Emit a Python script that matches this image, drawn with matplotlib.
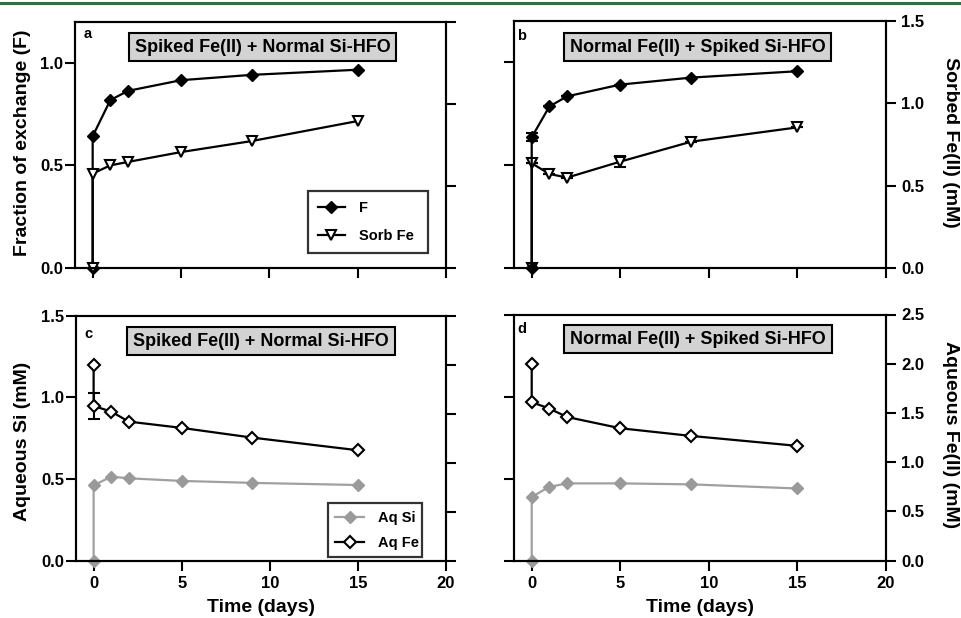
import matplotlib
matplotlib.use('Agg')
import matplotlib.pyplot as plt
from matplotlib.lines import Line2D

plt.rcParams['font.family'] = ['Liberation Sans', 'DejaVu Sans']
plt.rcParams['font.weight'] = 'bold'
plt.rcParams['axes.labelweight'] = 'bold'

# ---------------- data ----------------
time = [0, 0, 1, 2, 5, 9, 15]
x_ticks = [0, 5, 10, 15, 20]

# Panel a: Spiked Fe(II) + Normal Si-HFO
a_F = [0.0, 0.642, 0.818, 0.863, 0.915, 0.941, 0.966]
a_sorb = [0.0, 0.575, 0.625, 0.646, 0.706, 0.773, 0.895]

# Panel b: Normal Fe(II) + Spiked Si-HFO
b_F = [0.0, 0.635, 0.785, 0.834, 0.891, 0.925, 0.956]
b_F_err = [0, 0.02, 0, 0, 0, 0, 0]
b_sorb = [0.0, 0.636, 0.571, 0.549, 0.646, 0.767, 0.854]
b_sorb_err = [0, 0, 0, 0, 0.032, 0, 0]

# Panel c: Spiked Fe(II) + Normal Si-HFO
c_si = [0.0, 0.461, 0.514, 0.504, 0.488, 0.476, 0.463]
c_fe = [2.0, 1.578, 1.520, 1.418, 1.354, 1.255, 1.126]
c_fe_err = [0, 0.13, 0, 0, 0, 0, 0]

# Panel d: Normal Fe(II) + Spiked Si-HFO
d_si = [0.0, 0.389, 0.450, 0.471, 0.471, 0.465, 0.440]
d_fe = [2.0, 1.610, 1.544, 1.459, 1.345, 1.267, 1.166]

title_1 = "Spiked Fe(II) + Normal Si-HFO"
title_2 = "Normal Fe(II) + Spiked Si-HFO"

GRAY = '#9a9a9a'
GRAY_LINE = '#a0a0a0'
W, H = 961, 618

fig = plt.figure(figsize=(W / 100, H / 100), dpi=100)
fig.add_artist(Line2D([0, 1], [1 - 2.5 / H] * 2, color='#2f6f44', lw=2.2,
                      transform=fig.transFigure))


def rect(l, t, r, b):
    return [l / W, 1 - b / H, (r - l) / W, (b - t) / H]


def setup(ax, tw, left_lim, left_ticks, right_lim, right_ticks,
          left_labels, right_labels, bottom_labels):
    ax.set_xlim(-1, 20)
    ax.set_xticks(x_ticks)
    ax.set_ylim(*left_lim)
    ax.set_yticks(left_ticks)
    tw.set_ylim(*right_lim)
    tw.set_yticks(right_ticks)
    for a in (ax, tw):
        for s in a.spines.values():
            s.set_linewidth(1.5)
        a.tick_params(direction='out', length=7, width=1.5, labelsize=12)
    ax.tick_params(axis='y', labelleft=left_labels, pad=1.5)
    ax.tick_params(axis='x', labelbottom=bottom_labels, pad=4)
    tw.tick_params(axis='y', labelright=right_labels, pad=4)
    for lab in ax.get_xticklabels() + ax.get_yticklabels() + tw.get_yticklabels():
        lab.set_fontweight('bold')


def title_box(x, y, text):
    fig.text(x / W, 1 - y / H, text, ha='center', va='center', fontsize=13,
             fontweight='bold',
             bbox=dict(boxstyle='square,pad=0.32', fc='#d3d3d3', ec='black', lw=1.5))


def legend(ax, handles, labels, x0, y0, w, hlen, tpad, lspace, bpad):
    leg = ax.legend(handles, labels, loc='lower left', bbox_to_anchor=(x0, y0, w, 0.4),
                    mode='expand', fontsize=10.5, frameon=True, fancybox=False,
                    edgecolor='black', handlelength=hlen, handletextpad=tpad,
                    labelspacing=lspace, borderpad=bpad, borderaxespad=0.0)
    leg.get_frame().set_linewidth(1.6)
    return leg


lw = 1.6
mew = 1.5

# ---------------- panel a ----------------
axa = fig.add_axes(rect(75, 21.7, 446, 268))
twa = axa.twinx()
setup(axa, twa, (0, 1.2), [0, 0.5, 1.0], (0, 1.5), [0, 0.5, 1.0, 1.5], True, False, False)
lF, = axa.plot(time, a_F, color='black', lw=lw, marker='D', ms=6.2, mfc='black',
               mec='black', clip_on=False, label='F')
lS, = twa.plot(time, a_sorb, color='black', lw=lw, marker='v', ms=7.5, mfc='white',
               mec='black', mew=mew, clip_on=False, label='Sorb Fe')
legend(twa, [lF, lS], ['F', 'Sorb Fe'], (308 - 75) / 371, (268 - 253) / 246.3,
       120 / 371, 1.85, 1.0, 0.95, 0.68)
fig.text(84 / W, 1 - 38.5 / H, 'a', fontsize=10.5, fontweight='bold', va='baseline')
title_box(262.5, 47, title_1)

# ---------------- panel b ----------------
axb = fig.add_axes(rect(514, 21, 886, 268))
twb = axb.twinx()
setup(axb, twb, (0, 1.2), [0, 0.5, 1.0], (0, 1.5), [0, 0.5, 1.0, 1.5], False, True, False)
twb.errorbar(time, b_sorb, yerr=b_sorb_err, color='black', lw=lw, marker='v', ms=7.5,
             mfc='white', mec='black', mew=mew, capsize=4.5, elinewidth=1.5,
             capthick=1.5, clip_on=False)
axb.errorbar(time, b_F, yerr=b_F_err, color='black', lw=lw, marker='D', ms=6.2,
             mfc='black', mec='black', capsize=4.5, elinewidth=1.5, capthick=1.5,
             clip_on=False)
axb.set_zorder(twb.get_zorder() + 1)
axb.patch.set_visible(False)
fig.text(517 / W, 1 - 40 / H, 'b', fontsize=10.5, fontweight='bold', va='baseline')
title_box(697.5, 47, title_2)

# ---------------- panel c ----------------
axc = fig.add_axes(rect(76, 315.5, 446, 560.7))
twc = axc.twinx()
setup(axc, twc, (0, 1.5), [0, 0.5, 1.0, 1.5], (0, 2.5), [0, 0.5, 1.0, 1.5, 2.0, 2.5],
      True, False, True)
lSi, = axc.plot(time, c_si, color=GRAY_LINE, lw=lw, marker='D', ms=6.5, mfc=GRAY,
                mec=GRAY, clip_on=False)
twc.errorbar(time, c_fe, yerr=c_fe_err, color='black', lw=lw, marker='D', ms=6.5,
             mfc='white', mec='black', mew=mew, capsize=4.5, elinewidth=1.5,
             capthick=1.5, clip_on=False)
hFe = Line2D([], [], color='black', lw=lw, marker='D', ms=6.5, mfc='white', mec='black',
             mew=mew)
legend(twc, [lSi, hFe], ['Aq Si', 'Aq Fe'], (328 - 76) / 370, (560.7 - 557) / 245.2,
       94 / 370, 2.0, 0.9, 0.75, 0.5)
axc.set_xlabel('Time (days)', fontsize=14, fontweight='bold', labelpad=6)
fig.text(84 / W, 1 - 338 / H, 'c', fontsize=10.5, fontweight='bold', va='baseline')
title_box(261, 341, title_1)

# ---------------- panel d ----------------
axd = fig.add_axes(rect(514, 314.5, 886, 560.7))
twd = axd.twinx()
setup(axd, twd, (0, 1.5), [0, 0.5, 1.0, 1.5], (0, 2.5), [0, 0.5, 1.0, 1.5, 2.0, 2.5],
      False, True, True)
axd.plot(time, d_si, color=GRAY_LINE, lw=lw, marker='D', ms=6.5, mfc=GRAY, mec=GRAY,
         clip_on=False)
twd.plot(time, d_fe, color='black', lw=lw, marker='D', ms=6.5, mfc='white', mec='black',
         mew=mew, clip_on=False)
axd.set_xlabel('Time (days)', fontsize=14, fontweight='bold', labelpad=6)
fig.text(517 / W, 1 - 333.5 / H, 'd', fontsize=10.5, fontweight='bold', va='baseline')
title_box(698, 339, title_2)

# ---------------- axis titles ----------------
fig.text(22.5 / W, 1 - 143 / H, 'Fraction of exchange (F)', rotation=90, ha='center',
         va='center', fontsize=14, fontweight='bold')
fig.text(22.5 / W, 1 - 441 / H, 'Aqueous Si (mM)', rotation=90, ha='center',
         va='center', fontsize=14, fontweight='bold')
fig.text(951 / W, 1 - 142.5 / H, 'Sorbed Fe(II) (mM)', rotation=270, ha='center',
         va='center', fontsize=14, fontweight='bold')
fig.text(951 / W, 1 - 435 / H, 'Aqueous Fe(II) (mM)', rotation=270, ha='center',
         va='center', fontsize=14, fontweight='bold')

fig.savefig('out.png', dpi=100)
